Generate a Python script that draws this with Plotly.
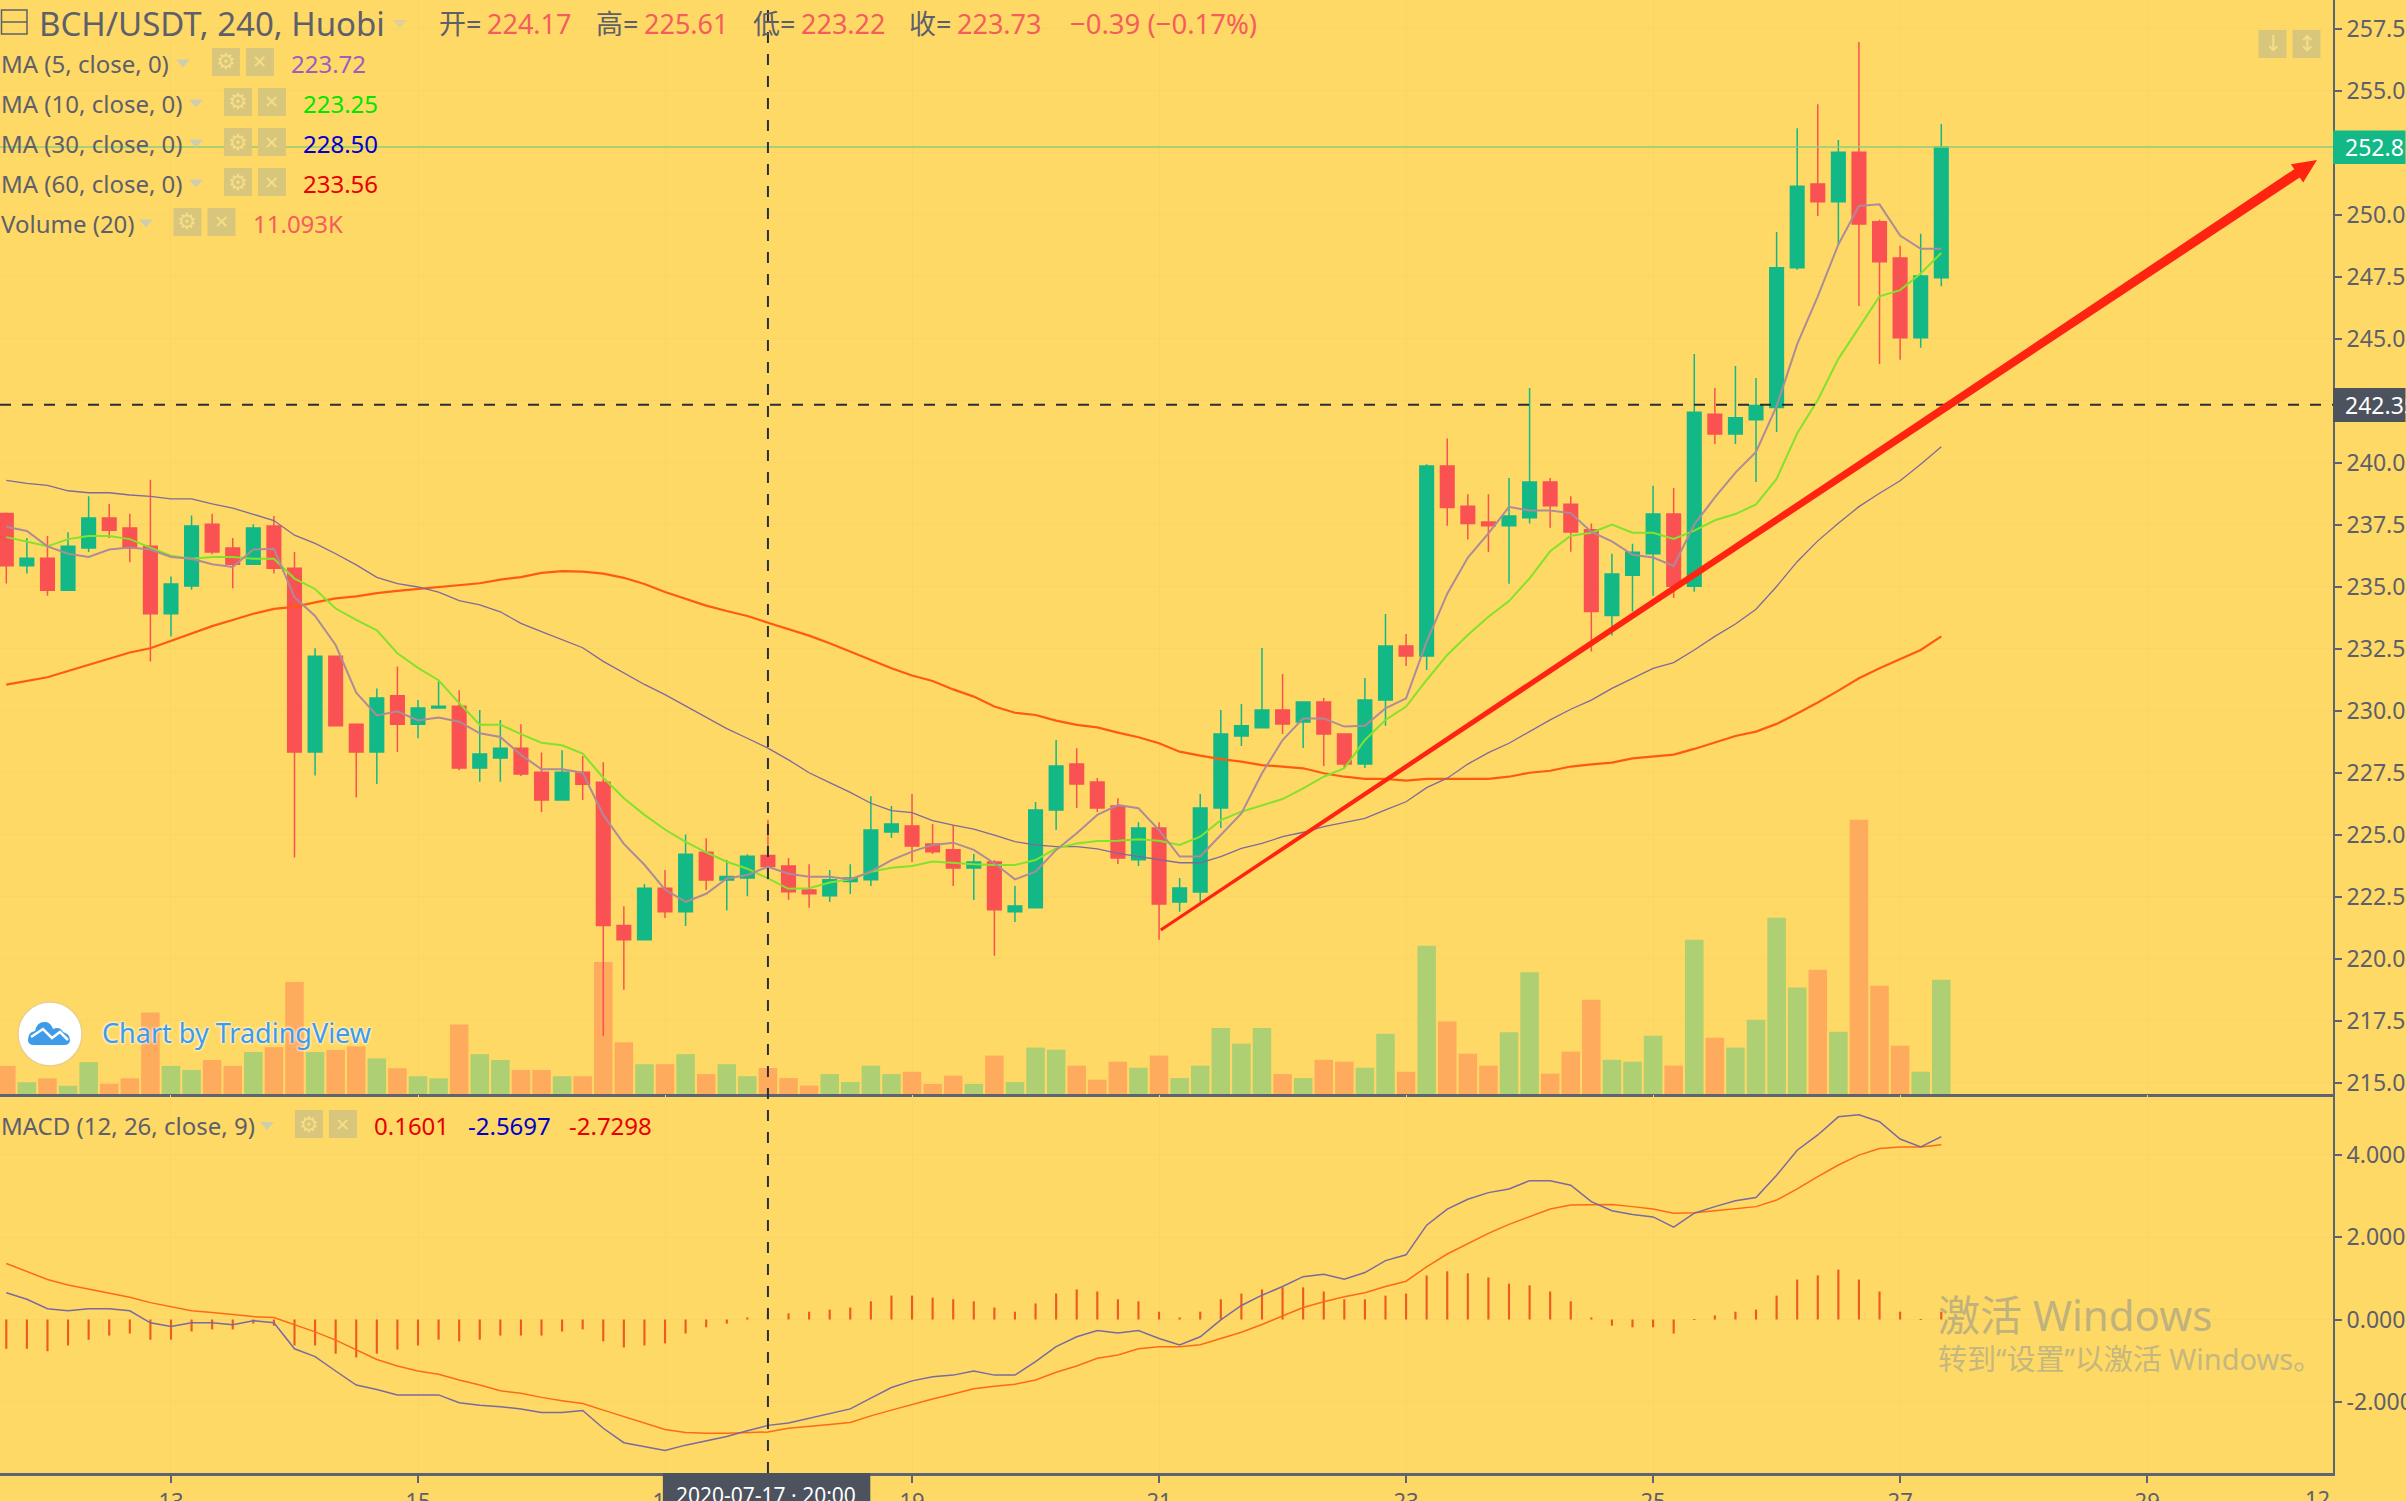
import pandas as pd
import plotly.graph_objects as go

# 4h candles
opens = [237.96, 235.86, 236.16, 234.87, 236.57, 237.78, 237.38, 236.64, 233.92, 235.04,
         237.53, 236.57, 235.92, 237.46, 235.76, 228.35, 232.21, 229.47, 228.35, 230.61,
         229.47, 230.12, 230.19, 227.7, 228.1, 228.5, 227.53, 226.41, 227.53, 227.13,
         221.35, 220.78, 222.85, 221.9, 224.3, 223.18, 223.27, 224.17, 223.75, 222.78,
         222.55, 223.12, 223.2, 225.12, 225.36, 224.64, 224.4, 223.67, 223.91, 221.9,
         222.07, 226.01, 227.86, 227.14, 226.17, 224.0, 225.28, 222.3, 222.7, 226.09,
         228.99, 229.32, 230.04, 229.56, 230.36, 229.07, 227.86, 230.44, 232.62, 232.22,
         239.88, 238.26, 237.62, 237.47, 237.79, 239.23, 238.34, 237.31, 233.85, 235.47,
         236.34, 237.94, 235.03, 241.97, 241.17, 241.74, 242.24, 247.87, 251.25, 250.53,
         252.53, 249.73, 248.27, 245.05, 247.47]
highs = [238.0, 236.98, 237.06, 237.21, 238.66, 238.35, 237.95, 239.32, 235.42, 237.88,
         237.95, 236.98, 237.53, 237.86, 236.41, 232.53, 232.21, 229.47, 230.91, 231.79,
         230.44, 231.18, 230.84, 230.04, 229.64, 229.47, 228.33, 228.42, 228.18, 227.93,
         222.13, 223.02, 223.59, 225.02, 224.87, 223.99, 224.22, 225.61, 224.07, 223.82,
         223.59, 223.82, 226.56, 226.17, 226.65, 225.44, 225.4, 224.23, 223.99, 222.94,
         226.33, 228.83, 228.5, 227.3, 226.48, 225.51, 225.51, 223.27, 226.65, 230.04,
         230.28, 232.54, 231.49, 230.36, 230.52, 229.07, 231.33, 233.91, 233.1, 239.95,
         240.99, 238.74, 238.74, 239.39, 243.02, 239.39, 238.66, 237.56, 236.34, 236.74,
         239.08, 238.99, 244.39, 243.02, 243.91, 243.43, 249.31, 253.5, 254.47, 253.02,
         256.98, 249.81, 248.76, 249.24, 253.67]
lows = [235.14, 235.54, 234.65, 234.87, 236.41, 236.98, 236.0, 232.0, 233.0, 234.89,
        236.32, 234.95, 235.92, 235.54, 224.09, 227.4, 229.4, 226.51, 227.06, 228.35,
        228.9, 230.12, 227.61, 227.15, 227.15, 227.38, 225.93, 226.41, 226.41, 216.9,
        218.76, 220.78, 221.65, 221.33, 222.78, 221.96, 222.53, 223.22, 222.39, 222.07,
        222.3, 222.62, 222.94, 224.88, 223.91, 224.23, 222.94, 222.38, 220.13, 221.49,
        222.07, 225.2, 226.09, 225.93, 223.83, 223.75, 220.78, 221.9, 222.3, 225.28,
        228.59, 229.32, 229.07, 228.51, 227.78, 227.7, 227.7, 229.4, 231.81, 231.65,
        237.47, 236.91, 236.41, 235.13, 237.56, 237.39, 236.42, 232.4, 233.04, 234.01,
        234.65, 234.56, 234.81, 240.77, 240.77, 239.23, 241.25, 247.79, 249.96, 248.81,
        246.33, 243.99, 244.16, 244.65, 247.13]
closes = [235.86, 236.16, 234.87, 236.64, 237.78, 237.29, 236.57, 233.92, 235.12, 237.46,
          236.41, 235.92, 237.38, 235.76, 228.35, 232.21, 229.4, 228.35, 230.52, 229.47,
          230.12, 230.19, 227.7, 228.27, 228.5, 227.46, 226.41, 227.53, 227.05, 221.35,
          220.78, 222.85, 221.9, 224.22, 223.18, 223.33, 224.14, 223.73, 222.71, 222.63,
          223.2, 223.27, 225.2, 225.44, 224.56, 224.32, 223.67, 223.91, 221.99, 222.14,
          226.01, 227.78, 227.06, 226.09, 224.07, 225.28, 222.22, 222.86, 226.09, 229.07,
          229.4, 230.04, 229.48, 230.36, 229.07, 227.86, 230.44, 232.62, 232.22, 239.88,
          238.21, 237.56, 237.47, 237.86, 239.23, 238.28, 237.22, 234.01, 235.52, 236.4,
          237.94, 235.03, 242.05, 241.17, 241.82, 242.32, 247.87, 251.16, 250.53, 252.53,
          249.64, 248.11, 245.05, 247.54, 252.74]
volumes = [12.0, 5.0, 6.7, 3.5, 13.6, 4.4, 6.7, 34.8, 12.0, 10.3,
           14.5, 12.0, 17.9, 20.0, 47.8, 17.9, 18.8, 20.3, 15.2, 11.0,
           7.6, 6.7, 29.7, 17.0, 14.5, 10.3, 10.3, 7.6, 7.6, 56.3,
           22.1, 12.7, 12.7, 17.0, 8.5, 12.7, 7.6, 11.093, 6.8, 3.6,
           8.5, 5.1, 12.1, 8.5, 9.5, 4.3, 7.8, 4.3, 16.4, 5.1,
           19.8, 18.9, 12.1, 6.1, 13.8, 11.2, 16.4, 6.8, 12.1, 28.2,
           21.5, 28.2, 8.5, 6.8, 14.6, 13.8, 11.2, 25.7, 9.5, 63.3,
           30.9, 17.2, 12.1, 26.4, 52.0, 8.7, 18.1, 40.2, 14.6, 13.8,
           24.9, 12.1, 65.8, 24.0, 19.8, 31.7, 75.2, 45.4, 53.0, 26.6,
           117.0, 46.2, 20.6, 9.5, 48.8]

ma5 = [237.43, 237.26, 236.64, 236.34, 236.21, 236.51, 236.59, 236.51, 236.21, 236.14,
       235.92, 235.81, 236.51, 236.54, 234.59, 233.83, 232.66, 230.74, 229.82, 229.99,
       229.62, 229.74, 229.57, 229.1, 228.95, 228.23, 227.65, 227.65, 227.51, 225.81,
       224.64, 223.8, 222.8, 222.3, 222.63, 223.25, 223.39, 223.72, 223.44, 223.32,
       223.32, 223.21, 223.52, 223.99, 224.33, 224.6, 224.69, 224.4, 223.86, 223.21,
       223.52, 224.4, 225.07, 225.81, 226.21, 226.08, 225.2, 224.13, 224.13, 225.0,
       225.87, 227.49, 228.83, 229.7, 229.7, 229.37, 229.4, 230.11, 230.51, 232.8,
       234.73, 236.19, 237.16, 238.23, 238.08, 238.08, 237.98, 237.22, 236.84, 236.3,
       236.19, 235.85, 237.52, 238.61, 239.61, 240.45, 242.29, 244.79, 246.72, 248.81,
       250.36, 250.43, 249.17, 248.64, 248.64]
ma10 = [237.01, 236.84, 236.64, 236.93, 237.06, 237.06, 236.93, 236.59, 236.26, 236.14,
        236.21, 236.21, 236.14, 236.14, 235.34, 234.92, 234.13, 233.67, 233.25, 232.33,
        231.74, 231.24, 230.32, 229.45, 229.45, 229.07, 228.72, 228.62, 228.28, 227.31,
        226.48, 225.81, 225.22, 224.72, 224.3, 223.92, 223.64, 223.25, 222.83, 222.85,
        223.08, 223.21, 223.52, 223.68, 223.75, 223.93, 223.86, 223.82, 223.79, 223.79,
        223.99, 224.46, 224.66, 224.76, 224.77, 224.83, 224.77, 224.6, 224.93, 225.6,
        225.94, 226.21, 226.45, 226.88, 227.35, 227.69, 228.83, 229.64, 230.18, 231.25,
        232.26, 233.06, 233.8, 234.43, 235.35, 236.44, 237.07, 237.19, 237.52, 237.19,
        237.19, 236.94, 237.27, 237.69, 237.94, 238.33, 239.36, 241.2, 242.54, 244.2,
        245.46, 246.72, 246.97, 247.64, 248.47]
ma30 = [239.3, 239.18, 239.1, 238.88, 238.8, 238.8, 238.71, 238.65, 238.55, 238.55,
        238.35, 238.18, 237.93, 237.68, 237.09, 236.76, 236.34, 235.89, 235.39, 235.14,
        235.0, 234.79, 234.45, 234.28, 234.0, 233.53, 233.2, 232.86, 232.55, 232.0,
        231.54, 231.07, 230.66, 230.21, 229.77, 229.29, 228.9, 228.5, 228.03, 227.51,
        227.11, 226.72, 226.28, 225.98, 225.9, 225.58, 225.4, 225.24, 224.99, 224.73,
        224.6, 224.53, 224.53, 224.44, 224.26, 224.13, 223.99, 223.88, 223.88, 224.13,
        224.46, 224.66, 224.93, 225.11, 225.34, 225.5, 225.67, 226.01, 226.34, 226.91,
        227.29, 227.86, 228.32, 228.7, 229.17, 229.64, 230.07, 230.44, 230.91, 231.32,
        231.72, 231.95, 232.46, 233.01, 233.51, 234.1, 235.02, 236.02, 236.86, 237.57,
        238.24, 238.78, 239.28, 239.95, 240.65]
ma60 = [231.06, 231.21, 231.36, 231.61, 231.86, 232.11, 232.36, 232.53, 232.83, 233.11,
        233.42, 233.67, 233.92, 234.12, 234.2, 234.38, 234.54, 234.62, 234.75, 234.84,
        234.92, 235.0, 235.07, 235.15, 235.3, 235.4, 235.57, 235.64, 235.62, 235.54,
        235.37, 235.12, 234.8, 234.54, 234.25, 234.03, 233.83, 233.56, 233.3, 233.04,
        232.73, 232.39, 232.08, 231.72, 231.43, 231.21, 230.87, 230.58, 230.18, 229.93,
        229.84, 229.61, 229.44, 229.34, 229.13, 228.94, 228.7, 228.36, 228.2, 228.06,
        227.96, 227.82, 227.76, 227.69, 227.49, 227.35, 227.26, 227.26, 227.19, 227.26,
        227.26, 227.26, 227.26, 227.35, 227.51, 227.59, 227.76, 227.85, 227.92, 228.09,
        228.16, 228.24, 228.47, 228.74, 228.99, 229.17, 229.48, 229.9, 230.34, 230.82,
        231.32, 231.72, 232.08, 232.46, 233.01]

macd_line = [0.65, 0.49, 0.26, 0.21, 0.26, 0.26, 0.21, -0.08, -0.17, -0.08,
             -0.08, -0.13, -0.03, -0.08, -0.71, -0.9, -1.25, -1.59, -1.7, -1.83,
             -1.83, -1.83, -2.02, -2.08, -2.12, -2.17, -2.26, -2.26, -2.21, -2.64,
             -2.99, -3.09, -3.18, -3.05, -2.94, -2.84, -2.7, -2.57, -2.51, -2.4,
             -2.29, -2.17, -1.91, -1.65, -1.49, -1.39, -1.35, -1.25, -1.35, -1.35,
             -1.02, -0.66, -0.42, -0.27, -0.33, -0.27, -0.46, -0.62, -0.42, -0.01,
             0.34, 0.59, 0.8, 1.04, 1.1, 0.98, 1.14, 1.43, 1.57, 2.29,
             2.68, 2.92, 3.08, 3.17, 3.37, 3.37, 3.26, 2.86, 2.64, 2.55,
             2.49, 2.24, 2.58, 2.74, 2.88, 2.96, 3.5, 4.11, 4.48, 4.92,
             4.97, 4.8, 4.38, 4.19, 4.44]
macd_signal = [1.36, 1.16, 0.97, 0.84, 0.74, 0.63, 0.54, 0.41, 0.31, 0.21,
               0.17, 0.12, 0.07, 0.05, -0.13, -0.3, -0.5, -0.74, -0.97, -1.13,
               -1.25, -1.33, -1.47, -1.59, -1.73, -1.79, -1.89, -1.97, -2.04, -2.2,
               -2.36, -2.52, -2.67, -2.74, -2.76, -2.76, -2.75, -2.73, -2.64, -2.6,
               -2.55, -2.5, -2.34, -2.2, -2.06, -1.93, -1.81, -1.68, -1.62, -1.57,
               -1.47, -1.28, -1.13, -0.94, -0.86, -0.71, -0.66, -0.66, -0.61, -0.46,
               -0.31, -0.12, 0.09, 0.29, 0.43, 0.55, 0.65, 0.8, 0.93, 1.28,
               1.59, 1.85, 2.09, 2.31, 2.5, 2.68, 2.78, 2.79, 2.79, 2.74,
               2.68, 2.58, 2.59, 2.64, 2.69, 2.74, 2.9, 3.17, 3.47, 3.75,
               3.99, 4.15, 4.19, 4.19, 4.24]
macd_hist = [-0.71, -0.71, -0.77, -0.63, -0.49, -0.39, -0.34, -0.49, -0.49, -0.29,
             -0.24, -0.24, -0.1, -0.15, -0.63, -0.63, -0.83, -0.92, -0.83, -0.73,
             -0.63, -0.49, -0.53, -0.49, -0.39, -0.39, -0.39, -0.29, -0.24, -0.53,
             -0.68, -0.63, -0.58, -0.34, -0.19, -0.1, 0.05, 0.16, 0.15, 0.19,
             0.24, 0.29, 0.44, 0.58, 0.58, 0.53, 0.49, 0.44, 0.29, 0.19,
             0.39, 0.63, 0.73, 0.68, 0.49, 0.44, 0.19, 0.05, 0.19, 0.49,
             0.63, 0.73, 0.78, 0.78, 0.68, 0.49, 0.49, 0.58, 0.63, 1.07,
             1.17, 1.12, 1.02, 0.87, 0.83, 0.68, 0.44, 0.05, -0.15, -0.19,
             -0.19, -0.34, -0.01, 0.1, 0.19, 0.24, 0.58, 0.97, 1.07, 1.21,
             0.97, 0.68, 0.19, 0.01, 0.19]

times = pd.date_range("2020-07-11 16:00", periods=95, freq="4h")
cross_time = "2020-07-17 20:00"
cross_price = 242.35
last_price = 252.74

day_ticks = ["2020-07-13", "2020-07-15", "2020-07-17", "2020-07-19", "2020-07-21",
             "2020-07-23", "2020-07-25", "2020-07-27", "2020-07-29"]
day_labels = ["13", "15", "17", "19", "21", "23", "25", "27", "29"]
price_ticks = [215 + 2.5 * n for n in range(18)]
# 242.50 and 252.50 sit behind the crosshair and last price boxes
price_labels = ["" if p in (242.5, 252.5) else "%.2f" % p for p in price_ticks]
macd_ticks = [-2, 0, 2, 4]
macd_labels = ["-2.0000", "0.0000", "2.0000", "4.0000"]

BG = "#FFD966"
GRID = "#f9d567"
AXIS = "#5d6472"
TEXT = "#5d606b"
UP = "#12b886"
DOWN = "#fa5252"
PANEL = "#d8c67c"
TRI = "#cfcdb0"
FONT = "Noto Sans"
CJK = "Noto Sans, Noto Sans CJK SC"
W, H = 2406, 1501
PW, PH = 2333.5, 1473


def px(x):
    return x / PW


def py(y):
    return 1 - y / PH


def path(*segs):
    # segments in page pixels -> paper coordinates
    out = []
    for seg in segs:
        nums = seg[1:]
        coords = [px(nums[i]) if i % 2 == 0 else py(nums[i]) for i in range(len(nums))]
        out.append(seg[0] + " " + " ".join(str(c) for c in coords))
    return " ".join(out)


annotations = []
shapes = []


def label(x, y, text, color=TEXT, size=24, anchor="left", family=FONT, **kw):
    annotations.append(dict(x=px(x), y=py(y), xref="paper", yref="paper", text=text, showarrow=False,
                            xanchor=anchor, yanchor="middle", borderpad=0,
                            font=dict(family=family, size=size, color=color, **kw)))


def box(x0, y0, x1, y1, fill):
    shapes.append(dict(type="rect", xref="paper", yref="paper", x0=px(x0), x1=px(x1), y0=py(y0), y1=py(y1),
                       fillcolor=fill, line=dict(width=0)))


def tri(x, y, color=TRI):
    # small dropdown triangle, x is its left edge, y its top
    shapes.append(dict(type="path", xref="paper", yref="paper", fillcolor=color, line=dict(width=0),
                       path=path(("M", x, y), ("L", x + 14, y), ("L", x + 7, y + 8)) + " Z"))


def buttons(x, y):
    box(x, y - 14, x + 28, y + 14, PANEL)
    box(x + 34, y - 14, x + 62, y + 14, PANEL)
    label(x + 14, y, "⚙", "#f6de86", 22, "center", "DejaVu Sans")
    label(x + 48, y, "✕", "#f6de86", 18, "center", "DejaVu Sans")


volume_colors = ["#afcf73" if c >= o else "#ffab5e" for o, c in zip(opens, closes)]

fig = go.Figure()
fig.add_trace(go.Bar(x=times, y=volumes, marker=dict(color=volume_colors, line=dict(width=0)),
                     xaxis="x", yaxis="y"))
fig.add_trace(go.Candlestick(x=times, open=opens, high=highs, low=lows, close=closes, xaxis="x", yaxis="y2",
                             increasing=dict(line=dict(color=UP, width=1.5), fillcolor=UP),
                             decreasing=dict(line=dict(color=DOWN, width=1.5), fillcolor=DOWN)))
fig.add_trace(go.Scatter(x=times, y=ma60, mode="lines", line=dict(color="#ff5a0f", width=2.2), xaxis="x", yaxis="y2"))
fig.add_trace(go.Scatter(x=times, y=ma30, mode="lines", line=dict(color="#80699c", width=1.3), xaxis="x", yaxis="y2"))
fig.add_trace(go.Scatter(x=times, y=ma10, mode="lines", line=dict(color="#83e22c", width=2), xaxis="x", yaxis="y2"))
fig.add_trace(go.Scatter(x=times, y=ma5, mode="lines", line=dict(color="#ad8b98", width=2), xaxis="x", yaxis="y2"))

fig.add_trace(go.Bar(x=times, y=macd_hist, width=1500000, marker=dict(color="#ee5a1f", line=dict(width=0)),
                     xaxis="x2", yaxis="y3"))
fig.add_trace(go.Scatter(x=times, y=macd_signal, mode="lines", line=dict(color="#ff6a14", width=1.5), xaxis="x2", yaxis="y3"))
fig.add_trace(go.Scatter(x=times, y=macd_line, mode="lines", line=dict(color="#7a6a9e", width=1.5), xaxis="x2", yaxis="y3"))

# last price line and crosshair
shapes.append(dict(type="line", xref="paper", yref="y2", x0=0, x1=1, y0=last_price, y1=last_price,
                   line=dict(color="#8fcb7a", width=1.5)))
shapes.append(dict(type="line", xref="paper", yref="y2", x0=0, x1=1, y0=cross_price, y1=cross_price,
                   line=dict(color="#2a2e39", width=2, dash="11px,11px")))
shapes.append(dict(type="line", xref="x", yref="paper", x0=cross_time, x1=cross_time, y0=0, y1=1,
                   line=dict(color="#2a2e39", width=2, dash="11px,11px")))

# hand drawn red arrow, gets thicker towards the tip
sx, sy, tx, ty = 1161, 930, 2317.5, 160
length = ((tx - sx) ** 2 + (ty - sy) ** 2) ** 0.5
dx, dy = (tx - sx) / length, (ty - sy) / length
nx, ny = -dy, dx
bx, by = tx - 24 * dx, ty - 24 * dy
shapes.append(dict(type="path", xref="paper", yref="paper", fillcolor="#ff2412", line=dict(width=0),
                   path=path(("M", sx + 1.5 * nx, sy + 1.5 * ny), ("L", bx + 5 * nx, by + 5 * ny),
                             ("L", bx + 11 * nx, by + 11 * ny), ("L", tx, ty),
                             ("L", bx - 11 * nx, by - 11 * ny), ("L", bx - 5 * nx, by - 5 * ny),
                             ("L", sx - 1.5 * nx, sy - 1.5 * ny)) + " Z"))

# header
shapes.append(dict(type="rect", xref="paper", yref="paper", x0=px(1.5), x1=px(27), y0=py(10), y1=py(34),
                   line=dict(color=TEXT, width=1.5)))
shapes.append(dict(type="line", xref="paper", yref="paper", x0=px(1.5), x1=px(27), y0=py(22), y1=py(22),
                   line=dict(color=TEXT, width=1.5)))
label(38, 23.5, "BCH/USDT, 240, Huobi", TEXT, 33)
tri(393, 20, "#e0d098")
for x, name, vx, value in [(438, "开=", 486, "224.17"), (595, "高=", 643, "225.61"),
                           (752, "低=", 800, "223.22"), (908, "收=", 956, "223.73")]:
    label(x, 23.5, name, TEXT, 27, family=CJK)
    label(vx, 23.5, value, "#f55d5d", 27)
label(1069, 23.5, "−0.39 (−0.17%)", "#f55d5d", 27.5)

# indicator legends
legend_rows = [
    ("MA (5, close, 0)", 63.5, 176, 212, 290, "223.72", "#9b5fc0"),
    ("MA (10, close, 0)", 103.5, 189, 224, 302.5, "223.25", "#00e600"),
    ("MA (30, close, 0)", 143.5, 189, 224, 302.5, "228.50", "#0000cc"),
    ("MA (60, close, 0)", 183.5, 189, 224, 302.5, "233.56", "#e60000"),
    ("Volume (20)", 223.5, 139, 173.5, 252.5, "11.093K", "#f55d5d"),
]
for name, y, tri_x, btn_x, val_x, value, color in legend_rows:
    label(0, y, name, TEXT, 24)
    tri(tri_x, y - 4)
    buttons(btn_x, y - 1.5)
    label(val_x, y, value, color, 24)

label(0, 1125, "MACD (12, 26, close, 9)", TEXT, 24)
tri(260, 1122)
buttons(295, 1124)
label(373, 1125, "0.1601", "#e60000", 24)
label(467, 1125, "-2.5697", "#0000cc", 24)
label(568, 1125, "-2.7298", "#e60000", 24)

# arrow buttons top right
box(2259, 30, 2287, 58, PANEL)
box(2293, 30, 2321, 58, PANEL)
label(2273, 44, "↓", "#f6de86", 22, "center", "DejaVu Sans")
label(2307, 44, "↕", "#f6de86", 22, "center", "DejaVu Sans")

# price labels on the axis
box(2333.5, 130.5, 2406, 164, "#12b886")
label(2345, 147, "252.81", "#ffffff", 23)
box(2333.5, 388, 2406, 422, "#4c525e")
label(2345, 405, "242.35", "#ffffff", 23)

# time label under the crosshair, cut by the window edge like the other axis labels
box(663, 1473, 870.5, 1501, "#4c525e")
label(766.5, 1495, "2020-07-17 · 20:00", "#ffffff", 21, "center")
label(2318, 1498, "12", TEXT, 22, "center")

# TradingView badge
shapes.append(dict(type="circle", xref="paper", yref="paper", x0=px(18), x1=px(82), y0=py(1002), y1=py(1066),
                   fillcolor="#ffffff", line=dict(color="#eccf8a", width=1.5)))
shapes.append(dict(type="path", xref="paper", yref="paper", fillcolor="#3d9be9", line=dict(width=0),
                   path=path(("M", 28, 1040), ("Q", 28, 1032, 35, 1031), ("Q", 37, 1021, 46, 1022),
                             ("Q", 51, 1023, 53, 1029), ("Q", 60, 1026, 63, 1032), ("Q", 70, 1034, 70, 1040),
                             ("Q", 70, 1045, 64, 1045), ("L", 34, 1045), ("Q", 28, 1045, 28, 1040)) + " Z"))
shapes.append(dict(type="path", xref="paper", yref="paper", line=dict(color="#ffffff", width=2.5),
                   path=path(("M", 31, 1037), ("L", 43, 1029), ("L", 52, 1038), ("L", 60, 1032), ("L", 68, 1040))))
label(101, 1032, "Chart by TradingView", "#3d9be9", 27, shadow="0 0 3px #ffffff, 0 0 3px #ffffff")

# activation watermark of the screenshot
label(1937, 1314, "激活 Windows", "#bfb27c", 42, family=CJK)
label(1937, 1358, "转到“设置”以激活 Windows。", "#c4b77f", 29, family=CJK)

fig.update_layout(
    width=W, height=H,
    margin=dict(l=0, r=W - PW, t=0, b=H - PH, autoexpand=False),
    paper_bgcolor=BG, plot_bgcolor=BG,
    showlegend=False,
    barmode="overlay", bargap=0.1, boxgap=0.34, boxgroupgap=0,
    font=dict(family=FONT, color=TEXT, size=22),
    shapes=shapes, annotations=annotations,
    xaxis=dict(domain=[0, 1], anchor="y", range=["2020-07-11 14:46:34", "2020-07-30 12:07:00"],
               tickmode="array", tickvals=day_ticks, ticktext=day_labels, showticklabels=False,
               showgrid=True, gridcolor=GRID, gridwidth=1, showline=True, linecolor=AXIS, linewidth=3,
               zeroline=False, rangeslider=dict(visible=False), ticks=""),
    xaxis2=dict(domain=[0, 1], anchor="y3", matches="x", tickmode="array", tickvals=day_ticks, ticktext=day_labels,
                showgrid=True, gridcolor=GRID, gridwidth=1, showline=True, linecolor=AXIS, linewidth=3,
                zeroline=False, ticks="outside", ticklen=7, tickcolor=AXIS, tickwidth=2,
                tickfont=dict(size=22, color=TEXT, family=FONT), tickangle=0, ticklabelstandoff=0),
    yaxis=dict(domain=[0.2573, 1], range=[0, 466.8], visible=False, fixedrange=True),
    yaxis2=dict(overlaying="y", side="right", anchor="x", range=[214.556, 258.669], tickmode="array",
                tickvals=price_ticks, ticktext=price_labels, showgrid=True, gridcolor=GRID, gridwidth=1,
                showline=True, linecolor=AXIS, linewidth=2, zeroline=False, ticks="outside", ticklen=7,
                tickcolor=AXIS, tickwidth=2, tickfont=dict(size=23, color=TEXT, family=FONT), ticklabelstandoff=0),
    yaxis3=dict(domain=[0, 0.2566], side="right", anchor="x2", range=[-3.726, 5.449], tickmode="array",
                tickvals=macd_ticks, ticktext=macd_labels, showgrid=True, gridcolor=GRID, gridwidth=1,
                showline=True, linecolor=AXIS, linewidth=2, zeroline=False, ticks="outside", ticklen=7,
                tickcolor=AXIS, tickwidth=2, tickfont=dict(size=23, color=TEXT, family=FONT), ticklabelstandoff=0),
)

# the page's default body margin would push the figure off the window
fig.write_html("out.html", config={"displayModeBar": False},
               post_script="document.body.style.margin='0';document.body.style.overflow='hidden';")
